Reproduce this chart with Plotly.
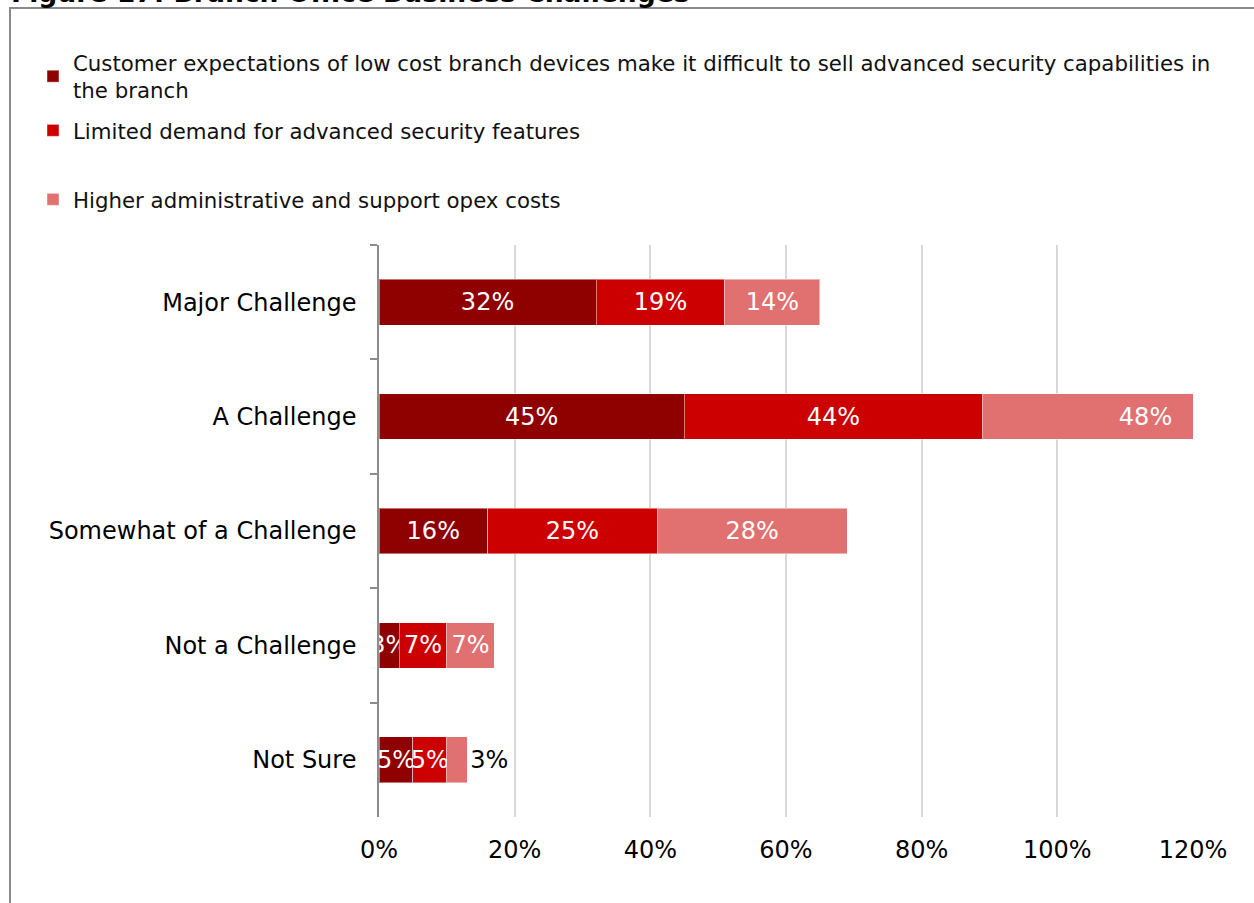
import plotly.graph_objects as go

# Survey responses (% of respondents) per challenge level
categories = ["Major Challenge", "A Challenge", "Somewhat of a Challenge",
              "Not a Challenge", "Not Sure"]
series_names = [
    "Customer expectations of low cost branch devices make it difficult to sell advanced security capabilities in<br>the branch",
    "Limited demand for advanced security features",
    "Higher administrative and support opex costs",
]
low_cost_expectations = [32, 45, 16, 3, 5]
limited_demand = [19, 44, 25, 7, 5]
opex_costs = [14, 48, 28, 7, 3]
x_ticks = [0, 20, 40, 60, 80, 100, 120]
x_tick_labels = [f"{v}%" for v in x_ticks]

colors = ["#8f0000", "#cc0000", "#e17070"]
FONT = "DejaVu Sans"

W, H = 1254, 903
M_L, M_R, M_T, M_B = 379, 61, 245, 86
PW, PH = W - M_L - M_R, H - M_T - M_B


def px_x(p):
    return (p - M_L) / PW


def px_y(p):
    return 1 - (p - M_T) / PH


fig = go.Figure()
values = [low_cost_expectations, limited_demand, opex_costs]
legend_tops = [42, 110, 179]
for i, (name, vals, col) in enumerate(zip(series_names, values, colors)):
    if i == 2:
        positions = ["inside"] * (len(vals) - 1) + ["outside"]
    else:
        positions = "inside"
    fig.add_trace(go.Bar(
        y=categories, x=vals, name=name, orientation="h",
        marker=dict(color=col, line=dict(color="rgba(255,255,255,0.45)", width=1)),
        texttemplate="%{x:.0f}%", textposition=positions, textangle=0,
        insidetextanchor="middle", constraintext="none",
        insidetextfont=dict(family=FONT, size=24, color="white"),
        outsidetextfont=dict(family=FONT, size=24, color="black"),
        cliponaxis=True,
        legend="legend" if i == 0 else f"legend{i + 1}",
        hoverinfo="skip",
    ))

legend_common = dict(
    xanchor="left", yanchor="top", bgcolor="rgba(0,0,0,0)",
    font=dict(family=FONT, size=21.3, color="#111111"),
    itemclick=False, itemdoubleclick=False,
)
fig.update_layout(
    legend=dict(x=px_x(33), y=px_y(legend_tops[0]), **legend_common),
    legend2=dict(x=px_x(33), y=px_y(legend_tops[1]), **legend_common),
    legend3=dict(x=px_x(33), y=px_y(legend_tops[2]), **legend_common),
)

fig.update_layout(
    width=W, height=H,
    margin=dict(l=M_L, r=M_R, t=M_T, b=M_B, pad=0),
    paper_bgcolor="white", plot_bgcolor="white",
    barmode="stack", bargap=0.6,
    font=dict(family=FONT, size=24, color="black"),
    showlegend=True,
    xaxis=dict(
        range=[0, 120], tickmode="array", tickvals=x_ticks, ticktext=x_tick_labels,
        showgrid=True, gridcolor="#d9d9d9", gridwidth=2,
        zeroline=False, showline=False, ticks="",
        tickfont=dict(family=FONT, size=24, color="black"),
        ticklabelstandoff=16, fixedrange=True,
    ),
    yaxis=dict(
        autorange="reversed", type="category",
        showline=True, linecolor="#8c8c8c", linewidth=1.5,
        ticks="outside", ticklen=7, tickcolor="#8c8c8c", tickwidth=1.5,
        tickson="boundaries", showgrid=False,
        tickfont=dict(family=FONT, size=24, color="black"),
        ticklabelstandoff=16, fixedrange=True,
    ),
    shapes=[dict(
        type="rect", xref="paper", yref="paper",
        x0=px_x(10), x1=px_x(W + 20), y0=px_y(H + 20), y1=px_y(8),
        line=dict(color="#8a8a8a", width=2), fillcolor="rgba(0,0,0,0)",
        layer="below",
    )],
    annotations=[dict(
        text="<b>Figure 17: Branch Office Business Challenges</b>",
        xref="paper", yref="paper", x=px_x(9), y=px_y(10),
        xanchor="left", yanchor="bottom", showarrow=False,
        font=dict(family=FONT, size=26.6, color="black"),
    )],
)

fig.write_html("out.html")
